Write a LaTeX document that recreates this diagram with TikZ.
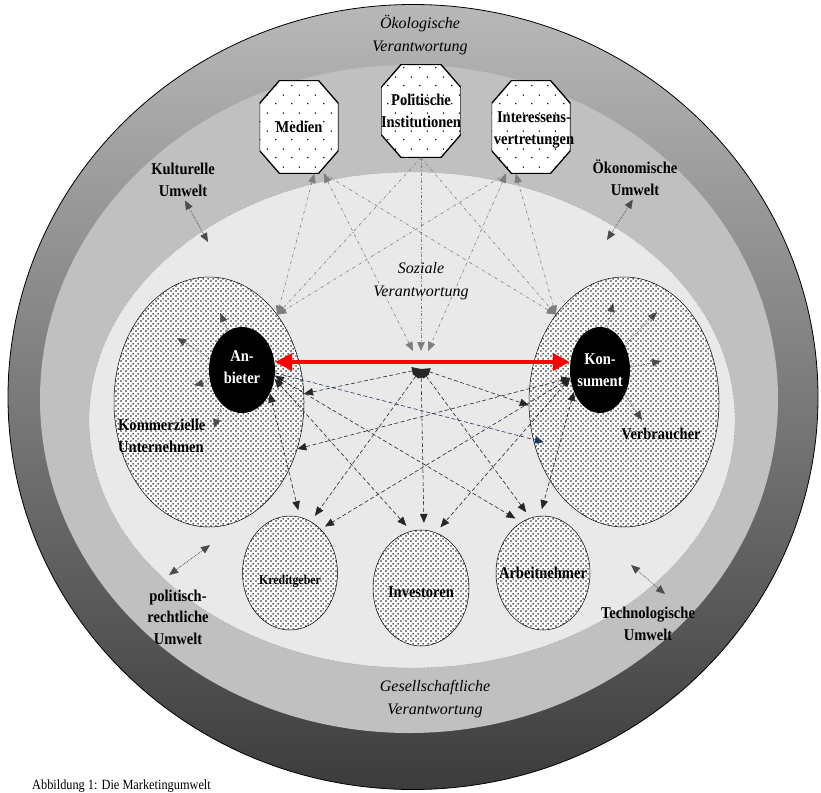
\documentclass[tikz,border=0pt]{standalone}
\usepackage{fontspec}
\setmainfont{Liberation Serif}
\newfontfamily\condfont[FakeStretch=0.88]{Liberation Serif}
\usepackage{tikz}
\usetikzlibrary{shapes.geometric, positioning, arrows.meta, patterns}
\definecolor{RingTop}{RGB}{184,184,184}
\definecolor{RingMid}{RGB}{138,138,138}
\definecolor{RingBot}{RGB}{60,60,60}
\definecolor{MidGray}{RGB}{192,192,192}
\definecolor{InnerGray}{RGB}{233,233,233}
\definecolor{LinkGray}{RGB}{125,125,125}
\definecolor{LinkBlue}{RGB}{31,56,100}

\pgfdeclarepatternformonly{densedots}{\pgfqpoint{0pt}{0pt}}{\pgfqpoint{5pt}{5pt}}{\pgfqpoint{5pt}{5pt}}{%
  \pgfpathcircle{\pgfqpoint{1.25pt}{1.25pt}}{1.05pt}%
  \pgfpathcircle{\pgfqpoint{3.75pt}{3.75pt}}{1.05pt}%
  \pgfusepath{fill}}
\pgfdeclarepatternformonly{sparsedots}{\pgfqpoint{0pt}{0pt}}{\pgfqpoint{16pt}{18pt}}{\pgfqpoint{16pt}{18pt}}{%
  \pgfpathcircle{\pgfqpoint{4pt}{4.5pt}}{0.8pt}%
  \pgfpathcircle{\pgfqpoint{12pt}{13.5pt}}{0.8pt}%
  \pgfusepath{fill}}

\begin{document}
\begin{tikzpicture}[x=1pt, y=-1pt,
    >={Triangle[length=9pt, width=7.5pt]},
    umwelt/.style={font=\condfont\fontsize{16.5}{22}\selectfont\bfseries, align=center, inner sep=0pt},
    zone/.style={font=\fontsize{16}{23}\selectfont\itshape, align=center, inner sep=0pt},
    octa/.style={minimum width=79, minimum height=93, inner sep=0pt,
      path picture={
        \draw[preaction={fill=white}, pattern=sparsedots, pattern color=black, line width=1.3pt]
          ([xshift=20pt]path picture bounding box.north west)
          -- ([xshift=-20pt]path picture bounding box.north east)
          -- ([yshift=-23pt]path picture bounding box.north east)
          -- ([yshift=23pt]path picture bounding box.south east)
          -- ([xshift=-20pt]path picture bounding box.south east)
          -- ([xshift=20pt]path picture bounding box.south west)
          -- ([yshift=23pt]path picture bounding box.south west)
          -- ([yshift=-23pt]path picture bounding box.north west) -- cycle;}},
    group/.style={ellipse, draw=black, line width=0.5pt, inner sep=0pt,
      preaction={fill=white}, pattern=densedots, pattern color=black!90},
    core/.style={ellipse, fill=black, inner sep=0pt},
    coreText/.style={text=white, align=center, inner sep=0pt,
      font=\condfont\fontsize{16.5}{22}\selectfont\bfseries},
    grayLink/.style={draw=LinkGray, dash dot, line width=0.6pt},
    blackLink/.style={draw=black!85, dash pattern=on 4pt off 2.5pt, line width=0.6pt, <->},
    blueLink/.style={draw=LinkBlue, dash pattern=on 4pt off 2.5pt, line width=0.6pt, ->},
    envLink/.style={draw=black!70, densely dotted, line width=0.7pt, <->},
    innerLink/.style={draw=black!70, densely dotted, line width=0.6pt, ->},
    redLink/.style={draw=red, line width=4pt,
      arrows={Triangle[length=17pt,width=17pt]-Triangle[length=17pt,width=17pt]}}
  ]
  \useasboundingbox (0,0) rectangle (821,792);

  % rings
  \node[ellipse, draw=black, line width=0.8pt, minimum width=810, minimum height=785,
        top color=RingTop, middle color=RingMid, bottom color=RingBot] (oeko) at (413,397) {};
  \node[ellipse, fill=MidGray, minimum width=738, minimum height=668] (gesell) at (409,399) {};
  \node[ellipse, fill=InnerGray, draw=gray, densely dotted, minimum width=646,
        minimum height=496] (sozial) at (412,420) {};

  % octagons
  \node[octa, umwelt] (medien) at (299,127) {Medien};
  \node[octa, umwelt] (politik) at (421,111) {Politische\\Institutionen};
  \node[octa, label={[umwelt, xshift=3pt, yshift=-3pt]center:{Interessens-\\vertretungen}}] (interess) at (531,127) {};

  % groups
  \node[group, minimum width=190, minimum height=250] (kommerz) at (209,402) {};
  \node[group, minimum width=190, minimum height=250] (verbr) at (624,402) {};
  \node[group, minimum width=95, minimum height=114,
        label={[umwelt, font=\condfont\fontsize{13.5}{16}\selectfont\bfseries, yshift=-8pt]center:Kreditgeber}] (kredit) at (290,573) {};
  \node[group, minimum width=96, minimum height=116,
        label={[umwelt, yshift=-4pt]center:Investoren}] (invest) at (421,588) {};
  \node[group, minimum width=94, minimum height=114,
        label={[umwelt]center:Arbeitnehmer}] (arbeit) at (543,573) {};

  \node[core, minimum width=66, minimum height=86,
        label={[coreText, yshift=3pt]center:{An-\\bieter}}] (anbieter) at (242,370) {};
  \node[core, minimum width=60, minimum height=86,
        label={[coreText]center:{Kon-\\sument}}] (konsument) at (600,370) {};

  \coordinate (hub) at (421,369);
  \coordinate (hubtop) at (421,351);

  % links from the octagons
  \draw[grayLink, <->] (medien.-72) -- (kommerz.52);
  \draw[grayLink, <->] (medien.-62) -- ([xshift=-8pt]hubtop);
  \draw[grayLink, ->] (medien.-62) -- (verbr.128);
  \draw[grayLink, ->] (politik.south) -- (kommerz.52);
  \draw[grayLink, ->] (politik.south) -- (hubtop);
  \draw[grayLink, ->] (politik.south) -- (verbr.128);
  \draw[grayLink, ->] (interess.-118) -- (kommerz.52);
  \draw[grayLink, <->] (interess.-118) -- ([xshift=7pt]hubtop);
  \draw[grayLink, <->] (interess.-108) -- (verbr.128);

  % links between the groups
  \draw[blackLink, shorten >=7pt] (anbieter.-40) -- (kredit.80);
  \draw[blackLink, shorten >=7pt] (anbieter.-15) -- (invest.100);
  \draw[blackLink, shorten >=7pt] (anbieter.-10) -- (arbeit.113);
  \draw[blackLink] (hub) -- (kommerz.5);
  \draw[blackLink] (hub) -- (verbr.182);
  \draw[blackLink, shorten >=7pt] (hub) -- (kredit.68);
  \draw[blackLink, shorten >=7pt] (hub) -- (invest.87);
  \draw[blackLink, shorten >=7pt] (hub) -- (arbeit.103);
  \draw[blackLink] (konsument.195) -- (kommerz.-28);
  \draw[blackLink, shorten >=5pt] (konsument.195) -- (kredit.55);
  \draw[blackLink, shorten >=7pt] (konsument.195) -- (invest.75);
  \draw[blackLink, shorten >=7pt] (konsument.220) -- (arbeit.93);
  \draw[blueLink] (anbieter.-5) -- ([xshift=10pt]verbr.204);

  % inside the groups
  \coordinate (anbA) at (220,313);
  \coordinate (anbB) at (177,338);
  \coordinate (anbC) at (194,385);
  \coordinate (anbD) at (214,428);
  \draw[innerLink] (anbieter.110) -- (anbA);
  \draw[innerLink] (anbieter.160) -- (anbB);
  \draw[innerLink] (anbieter.200) -- (anbC);
  \draw[innerLink] (anbieter.240) -- (anbD);
  \coordinate (konA) at (613,303);
  \coordinate (konB) at (657,312);
  \coordinate (konC) at (661,361);
  \coordinate (konD) at (642,420);
  \draw[innerLink] (konsument.80) -- (konA);
  \draw[innerLink] (konsument.45) -- (konB);
  \draw[innerLink] (konsument.5) -- (konC);
  \draw[innerLink] (konsument.-45) -- (konD);

  \draw[redLink] ([yshift=8pt]anbieter.east) -- ([yshift=8pt]konsument.west);

  % texts
  \node[zone] (oekoText) at (420,35) {Ökologische\\Verantwortung};
  \node[zone] (sozText) at (421,281) {Soziale\\Verantwortung};
  \node[zone] (gesText) at (435,699) {Gesellschaftliche\\Verantwortung};
  \node[umwelt] (kultur) at (183,180) {Kulturelle\\Umwelt};
  \node[umwelt] (oekon) at (635,178) {Ökonomische\\Umwelt};
  \node[umwelt, font=\condfont\fontsize{16.5}{21.5}\selectfont\bfseries] (politR) at (178,617) {politisch-\\rechtliche\\Umwelt};
  \node[umwelt] (techno) at (648,624) {Technologische\\Umwelt};
  \node[umwelt, align=left, anchor=west] (kommerzText) at (118,436) {Kommerzielle\\Unternehmen};
  \node[umwelt] (verbrText) at (661,434) {Verbraucher};
  \node[anchor=base west, inner sep=0pt, font=\condfont\fontsize{14}{15}\selectfont] (caption) at (32,789) {Abbildung 1: Die Marketingumwelt};

  % environment arrows
  \coordinate (kulturTip) at (208,242);
  \coordinate (oekonTip) at (607,240);
  \coordinate (politA) at (169,575);
  \coordinate (politB) at (210,545);
  \coordinate (technoA) at (631,565);
  \coordinate (technoB) at (665,594);
  \draw[envLink, shorten <=4pt] (kultur.south) -- (kulturTip);
  \draw[envLink, shorten <=4pt] (oekon.south) -- (oekonTip);
  \draw[envLink] (politA) -- (politB);
  \draw[envLink] (technoA) -- (technoB);
\end{tikzpicture}
\end{document}
